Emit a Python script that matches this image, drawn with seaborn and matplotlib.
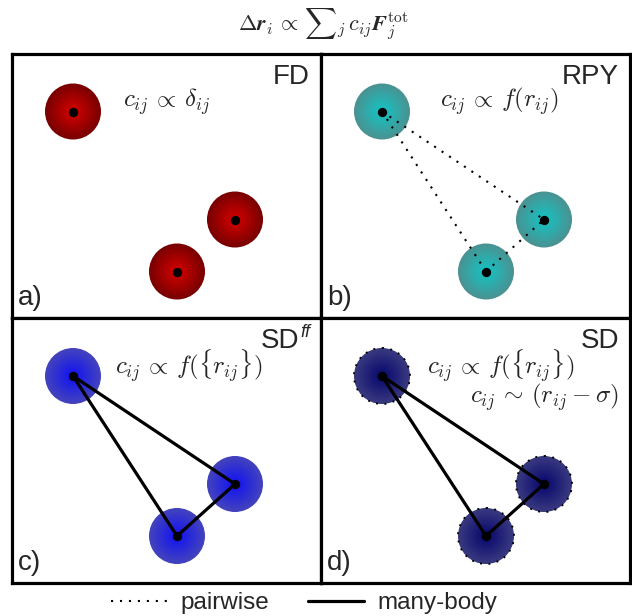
import matplotlib
matplotlib.use("Agg")
import matplotlib.pyplot as plt
from matplotlib.patches import Circle
from matplotlib.lines import Line2D
from matplotlib.colors import to_rgb
import numpy as np
import pandas as pd
import seaborn as sns

sns.set_theme(style="white")
plt.rcParams['font.family'] = ['Liberation Sans', 'DejaVu Sans']
plt.rcParams['mathtext.fontset'] = 'cm'

# particle centres, in pixels inside each panel (y goes down)
particle_x = [61, 223, 165]
particle_y = [58, 166, 218]
particle_r = 28
links = [(0, 1), (0, 2), (2, 1)]

panel_tags = ["a)", "b)", "c)", "d)"]
panel_names = ["FD", "RPY", "SD", "SD"]
panel_formula = [r"$c_{ij}\,\propto\,\delta_{ij}$",
                 r"$c_{ij}\,\propto\,f(r_{ij})$",
                 r"$c_{ij}\,\propto\,f(\{r_{ij}\})$",
                 r"$c_{ij}\,\propto\,f(\{r_{ij}\})$"]
panel_link_style = [None, "pairwise", "many-body", "many-body"]
# inner / outer colour of the radial shading
panel_colors = [("#d80000", "#780000"),
                ("#12c6c6", "#4b9292"),
                ("#1010f5", "#4444bd"),
                ("#05056c", "#3a3a80")]

W, H = 632, 616
fig = plt.figure(figsize=(W / 100, H / 100), dpi=100)

boxes = [(12, 53.5), (321, 53.5), (12, 318), (321, 318)]
pw, ph = 309, 264.5

dotted = (0, (1, 3.3))


def shaded_disc(ax, x, y, inner, outer, n=40):
    c_in = np.array(to_rgb(inner))
    c_out = np.array(to_rgb(outer))
    for k in range(n):
        t = k / n
        col = c_out + (c_in - c_out) * t
        ax.add_patch(Circle((x, y), particle_r * (1 - t), color=col, lw=0, zorder=1))


for i, (bx, by) in enumerate(boxes):
    ax = fig.add_axes([bx / W, 1 - (by + ph) / H, pw / W, ph / H])
    ax.set_xlim(0, pw)
    ax.set_ylim(ph, 0)
    ax.set_xticks([])
    ax.set_yticks([])
    for s in ax.spines.values():
        s.set_color("black")
        s.set_linewidth(2.3)
        s.set_visible(True)

    inner, outer = panel_colors[i]
    for x, y in zip(particle_x, particle_y):
        shaded_disc(ax, x, y, inner, outer)
        if i == 3:
            ax.add_patch(Circle((x, y), particle_r, fill=False, color="black",
                                lw=1.4, linestyle=dotted, zorder=2))

    style = panel_link_style[i]
    if style is not None:
        for a, b in links:
            if style == "pairwise":
                ax.plot([particle_x[a], particle_x[b]], [particle_y[a], particle_y[b]],
                        color="black", lw=1.5, linestyle=dotted, zorder=3)
            else:
                ax.plot([particle_x[a], particle_x[b]], [particle_y[a], particle_y[b]],
                        color="black", lw=2.3, solid_capstyle="round", zorder=3)

    df = pd.DataFrame({"x": particle_x, "y": particle_y})
    sns.scatterplot(data=df, x="x", y="y", ax=ax, color="black", s=45,
                    linewidth=0, zorder=5, legend=False)
    ax.set_xlabel("")
    ax.set_ylabel("")

    # labels
    ax.text(6, ph - 13, panel_tags[i], fontsize=20, ha="left", va="baseline")
    if i == 2:
        ax.text(pw - 22, 10, panel_names[i], fontsize=20, ha="right", va="top")
        ax.text(pw - 21, 6, "ff", fontsize=13, style="italic", ha="left", va="top")
    else:
        ax.text(pw - 11, 10, panel_names[i], fontsize=20, ha="right", va="top")

    fx = [111, 119, 103, 106][i]
    ax.text(fx, 48, panel_formula[i], fontsize=18, ha="left", va="center")
    if i == 3:
        ax.text(149, 79, r"$c_{ij}\,\sim\,(r_{ij} - \sigma)$", fontsize=18,
                ha="left", va="center")

fig.text(323 / W, 1 - 24 / H,
         r"$\mathbf{\Delta}\mathbfit{r}_i\,\propto\,{\sum}_j\, c_{ij}\mathbfit{F}_j^{\mathrm{tot}}$",
         fontsize=16, ha="center", va="center")

handles = [Line2D([], [], color="black", lw=1.5, linestyle=dotted),
           Line2D([], [], color="black", lw=2.3)]
fig.legend(handles, ["pairwise", "many-body"], loc="center",
           bbox_to_anchor=(304.5 / W, 1 - 603 / H), ncol=2, frameon=False,
           fontsize=17.5, handlelength=2.3, handletextpad=0.55, columnspacing=1.6,
           borderpad=0, borderaxespad=0)

fig.savefig("out.png", dpi=100)
